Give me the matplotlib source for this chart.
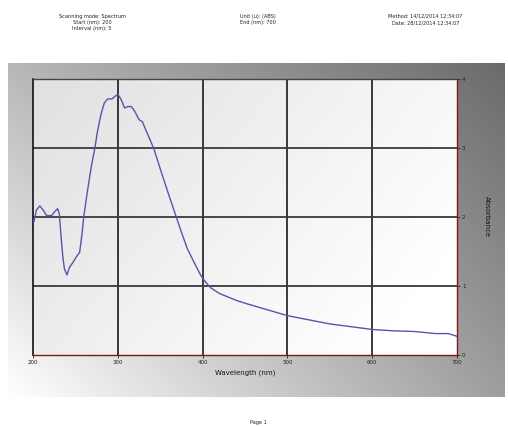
import numpy as np
import matplotlib
matplotlib.use("Agg")
import matplotlib.pyplot as plt

wavelength = [200, 201, 204, 208, 212, 216, 222, 225, 229, 231, 233, 235, 237, 240,
              243, 247, 251, 255, 258, 260, 264, 269, 273, 276, 280, 284, 288, 293,
              297, 300, 304, 308, 312, 316, 320, 325, 329, 333, 338, 343, 351, 359,
              367, 375, 382, 390, 398, 402, 406, 410, 420, 430, 440, 450, 475, 500,
              525, 550, 575, 600, 625, 650, 675, 690, 700]
absorbance = [1.95, 1.93, 2.10, 2.16, 2.10, 2.02, 2.02, 2.07, 2.12, 2.05, 1.73, 1.44,
              1.25, 1.16, 1.27, 1.34, 1.42, 1.49, 1.78, 2.02, 2.36, 2.75, 3.00, 3.24,
              3.48, 3.65, 3.71, 3.71, 3.75, 3.78, 3.70, 3.58, 3.60, 3.60, 3.53, 3.41,
              3.38, 3.26, 3.12, 2.97, 2.66, 2.36, 2.07, 1.78, 1.54, 1.34, 1.15, 1.08,
              1.02, 0.97, 0.89, 0.84, 0.79, 0.75, 0.66, 0.57, 0.51, 0.45, 0.41, 0.37,
              0.35, 0.34, 0.31, 0.31, 0.27]
xticks = [200, 300, 400, 500, 600, 700]
yticks = [0, 1, 2, 3, 4]
header_left = ["Scanning mode: Spectrum", "Start (nm): 200", "Interval (nm): 5"]
header_mid = ["Unit (u): (ABS)", "End (nm): 700"]
header_right = ["Method: 14/12/2014 12:34:07", "Date: 28/12/2014 12:34:07"]

fig = plt.figure(figsize=(5.08, 4.26), dpi=100)
fig.patch.set_facecolor("white")

# gradient frame
bg = fig.add_axes([0.0157, 0.068, 0.978, 0.784])
u = np.linspace(0, 1, 200)[None, :]
v = np.linspace(1, 0, 150)[:, None]
g = 1.0 - 0.28 * v - 0.38 * u + 0.08 * u * v
g = np.clip(g, 0, 1)
bg.imshow(np.dstack([g, g, g]), aspect="auto", extent=[0, 1, 0, 1], interpolation="bilinear")
bg.set_axis_off()

ax = fig.add_axes([0.065, 0.1667, 0.8346, 0.648])
pu = np.linspace(0, 1, 100)[None, :]
pv = np.linspace(1, 0, 100)[:, None]
pg = np.clip(0.88 + 0.09 * pu + 0.05 * (1 - pv), 0, 1)
ax.imshow(np.dstack([pg, pg, pg]), aspect="auto", extent=[200, 700, 0, 4],
          interpolation="bilinear", zorder=0)

for xv in xticks[1:-1]:
    ax.axvline(xv, color="#1a1a1a", lw=1.2, zorder=1)
for yv in yticks[1:-1]:
    ax.axhline(yv, color="#3a3a3a", lw=1.3, zorder=1)

ax.plot(wavelength, absorbance, color="#5656a8", lw=1.0, zorder=3)
ax.set_xlim(200, 700)
ax.set_ylim(0, 4)
ax.set_xticks(xticks)
ax.set_yticks(yticks)
ax.yaxis.tick_right()
ax.yaxis.set_label_position("right")
ax.tick_params(axis="both", labelsize=4, length=2, width=0.6, pad=1.5, colors="#222222")
ax.spines["left"].set_color("#111111")
ax.spines["left"].set_linewidth(1.2)
ax.spines["top"].set_color("#444444")
ax.spines["top"].set_linewidth(1.0)
ax.spines["right"].set_color("#7a1a1a")
ax.spines["right"].set_linewidth(1.0)
ax.spines["bottom"].set_color("#7a1a1a")
ax.spines["bottom"].set_linewidth(1.0)
ax.set_xlabel("Wavelength (nm)", fontsize=5, labelpad=3, color="#111111")
ax.set_ylabel("Absorbance", fontsize=5, rotation=-90, labelpad=18, color="#111111")

for i, t in enumerate(header_left):
    fig.text(0.181, 0.962 - i * 0.015, t, ha="center", va="center", fontsize=3.6, color="#222222")
for i, t in enumerate(header_mid):
    fig.text(0.508, 0.962 - i * 0.015, t, ha="center", va="center", fontsize=3.6, color="#222222")
for i, t in enumerate(header_right):
    fig.text(0.837, 0.962 - i * 0.015, t, ha="center", va="center", fontsize=3.6, color="#222222")
fig.text(0.508, 0.009, "Page 1", ha="center", va="center", fontsize=3.6, color="#222222")

fig.savefig("out.png", dpi=100)
